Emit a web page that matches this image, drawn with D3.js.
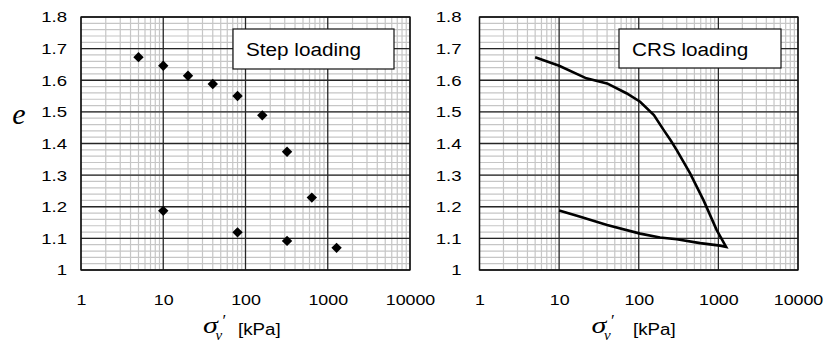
<!DOCTYPE html>
<html>
<head>
<meta charset="utf-8">
<script src="https://cdn.jsdelivr.net/npm/d3@7"></script>
<style>
  html, body { margin: 0; padding: 0; background: #fff; }
  svg { display: block; }
  .tick text { font-family: "Liberation Sans", Arial, sans-serif; font-size: 15.5px; fill: #000; }
</style>
</head>
<body>
<svg id="chart" width="826" height="343"></svg>
<script>
// Step loading oedometer test: effective vertical stress (kPa) and void ratio
const stepStress = [5, 10, 20, 40, 80, 160, 320, 640, 1280, 320, 80, 10];
const stepVoid   = [1.673, 1.646, 1.614, 1.588, 1.550, 1.489, 1.374, 1.229, 1.070, 1.092, 1.119, 1.187];

// CRS loading curve: loading branch then unloading branch
const crsStress = [5, 10, 22, 40, 70, 104, 155, 205, 250, 300, 440, 650, 950, 1250,
                   1050, 590, 300, 185, 104, 40, 18, 10];
const crsVoid   = [1.673, 1.646, 1.606, 1.590, 1.559, 1.532, 1.490, 1.443, 1.411, 1.379, 1.306, 1.221, 1.127, 1.073,
                   1.077, 1.085, 1.097, 1.103, 1.115, 1.142, 1.169, 1.188];

const xTicks = [1, 10, 100, 1000, 10000];
const yTicks = [1, 1.1, 1.2, 1.3, 1.4, 1.5, 1.6, 1.7, 1.8];
const panelTitles = ["Step loading", "CRS loading"];

const SANS = "Liberation Sans, Arial, sans-serif";
const SERIF = "Liberation Serif, Times New Roman, serif";

// widen text horizontally by a factor, keeping its anchor
function widen(sel, f) {
  sel.each(function () {
    const len = this.getComputedTextLength();
    d3.select(this).attr("textLength", len * f).attr("lengthAdjust", "spacingAndGlyphs");
  });
}

const svg = d3.select("#chart");

const panels = [
  { x0: 81, x1: 410, yPad: 14, legend: [233, 29, 161, 40], title: panelTitles[0],
    sigmaX: 203, kpaX: 238 },
  { x0: 479.5, x1: 798, yPad: 18, legend: [619, 29, 162, 39], title: panelTitles[1],
    sigmaX: 591.5, kpaX: 633 }
];
const yTop = 17, yBot = 270;

panels.forEach((p, i) => {
  const x = d3.scaleLog().domain([1, 10000]).range([p.x0, p.x1]);
  const y = d3.scaleLinear().domain([1, 1.8]).range([yBot, yTop]);
  const g = svg.append("g");

  // minor grid
  const minorX = [];
  for (let d = 1; d < 10000; d *= 10) for (let k = 2; k <= 9; k++) minorX.push(d * k);
  const minorY = d3.range(0, 41).map(j => 1 + j * 0.02);
  g.append("g").selectAll("line").data(minorX).join("line")
    .attr("x1", d => x(d)).attr("x2", d => x(d)).attr("y1", yTop).attr("y2", yBot)
    .attr("stroke", "#c6c6c6").attr("stroke-width", 1.2);
  g.append("g").selectAll("line").data(minorY).join("line")
    .attr("x1", p.x0).attr("x2", p.x1).attr("y1", d => y(d)).attr("y2", d => y(d))
    .attr("stroke", "#c6c6c6").attr("stroke-width", 1.2);

  // major grid
  g.append("g").selectAll("line").data(xTicks).join("line")
    .attr("x1", d => x(d)).attr("x2", d => x(d)).attr("y1", yTop).attr("y2", yBot)
    .attr("stroke", "#262626").attr("stroke-width", 1.3);
  g.append("g").selectAll("line").data(yTicks).join("line")
    .attr("x1", p.x0).attr("x2", p.x1).attr("y1", d => y(d)).attr("y2", d => y(d))
    .attr("stroke", "#262626").attr("stroke-width", 1.3);

  g.append("rect").attr("x", p.x0).attr("y", yTop).attr("width", p.x1 - p.x0).attr("height", yBot - yTop)
    .attr("fill", "none").attr("stroke", "#111").attr("stroke-width", 1.3);

  // axes
  const ya = g.append("g").attr("transform", `translate(${p.x0},0)`)
    .call(d3.axisLeft(y).tickValues(yTicks).tickSize(0).tickPadding(p.yPad)
      .tickFormat(d => String(+d.toFixed(1))));
  ya.select(".domain").remove();
  widen(ya.selectAll("text"), 1.2);
  const xa = g.append("g").attr("transform", `translate(0,${yBot})`)
    .call(d3.axisBottom(x).tickValues(xTicks).tickSize(0).tickPadding(24).tickFormat(d3.format("d")));
  xa.select(".domain").remove();
  widen(xa.selectAll("text"), 1.15);

  // legend box
  const [lx, ly, lw, lh] = p.legend;
  g.append("rect").attr("x", lx).attr("y", ly).attr("width", lw).attr("height", lh)
    .attr("fill", "#fff").attr("stroke", "#111").attr("stroke-width", 1.2);
  const lt = g.append("text").attr("x", lx + 13).attr("y", ly + 27)
    .attr("font-family", SANS).attr("font-size", 18).text(p.title);
  widen(lt, 1.15);

  // x-axis title: σ'_v [kPa]
  const sig = g.append("text").attr("x", p.sigmaX).attr("y", 333)
    .attr("font-family", SERIF).attr("font-style", "italic").attr("font-size", 24).text("σ");
  widen(sig, 1.25);
  g.append("text").attr("x", p.sigmaX + 19.5).attr("y", 326)
    .attr("font-family", SERIF).attr("font-size", 17).text("′");
  g.append("text").attr("x", p.sigmaX + 12.5).attr("y", 340)
    .attr("font-family", SERIF).attr("font-style", "italic").attr("font-size", 15).text("v");
  const kpa = g.append("text").attr("x", p.kpaX).attr("y", 335)
    .attr("font-family", SANS).attr("font-size", 16).text("[kPa]");
  widen(kpa, 1.17);

  if (i === 0) {
    g.append("g").selectAll("path").data(stepStress.map((s, k) => [s, stepVoid[k]])).join("path")
      .attr("d", "M0,-5.2L5.2,0L0,5.2L-5.2,0Z")
      .attr("transform", d => `translate(${x(d[0])},${y(d[1])})`)
      .attr("fill", "#000");
  } else {
    const line = d3.line().x(d => x(d[0])).y(d => y(d[1])).curve(d3.curveLinear);
    g.append("path").datum(crsStress.map((s, k) => [s, crsVoid[k]]))
      .attr("d", line).attr("fill", "none").attr("stroke", "#000").attr("stroke-width", 2.6)
      .attr("stroke-linejoin", "miter");
  }
});

// y-axis title
svg.append("text").attr("x", 19).attr("y", 124).attr("text-anchor", "middle")
  .attr("font-family", SERIF).attr("font-style", "italic")
  .attr("font-size", 30).text("e");
</script>
</body>
</html>
